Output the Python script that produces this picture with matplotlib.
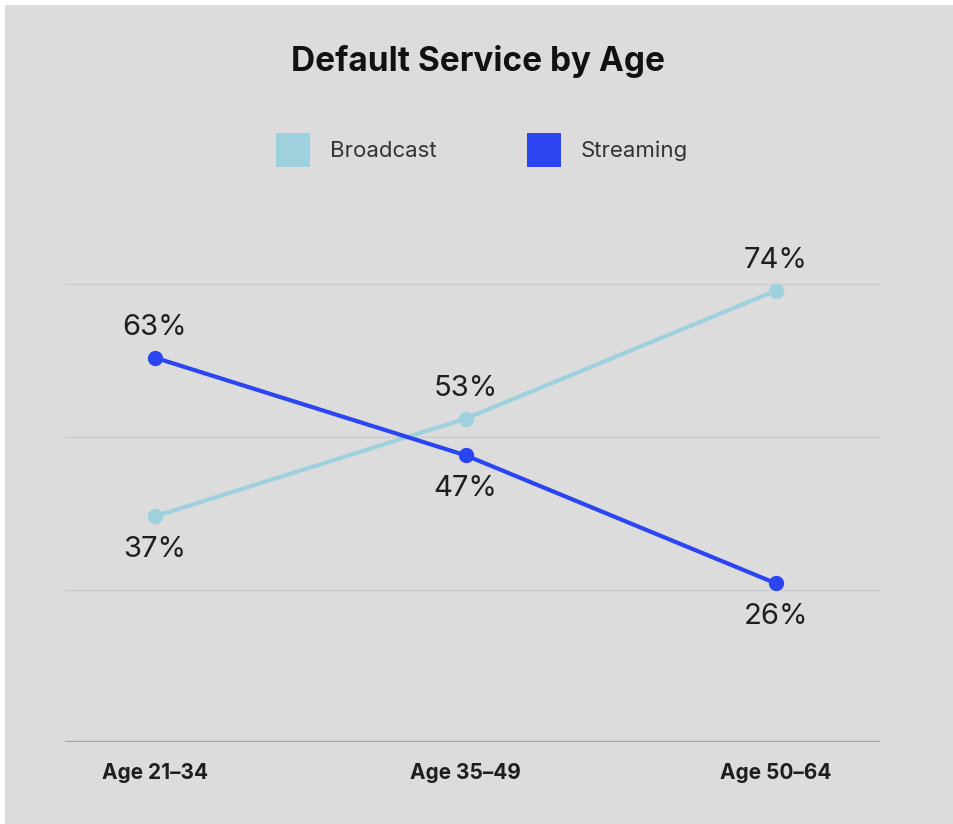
import matplotlib

matplotlib.use("Agg")
import matplotlib.pyplot as plt
from matplotlib.patches import Rectangle

plt.rcParams["font.family"] = ["Inter", "DejaVu Sans"]

# data
age_groups = ["Age 21\u201334", "Age 35\u201349", "Age 50\u201364"]
broadcast = [37, 53, 74]
streaming = [63, 47, 26]
gridlines = [25, 50, 75]

BG = "#dcdcdc"
BROADCAST_COLOR = "#9fd0dd"
STREAMING_COLOR = "#2b45f2"
TEXT_COLOR = "#1e1e1e"

W, H = 954, 824
fig = plt.figure(figsize=(W / 100, H / 100), dpi=100, facecolor="white")
fig.patches.append(Rectangle((5 / W, 0), 1, 1 - 5 / H, transform=fig.transFigure,
                             facecolor=BG, edgecolor="none", zorder=-1))

ax = fig.add_axes([65 / W, (H - 742) / H, 815 / W, 610 / H])
ax.set_facecolor("none")
ax.set_xlim(-0.29, 2.335)
ax.set_ylim(0, 100)
for s in ax.spines.values():
    s.set_visible(False)
ax.axhline(0, color="#a3a3a3", lw=1.6, zorder=1)
for g in gridlines:
    ax.axhline(g, color="#cbcbcb", lw=1.0, zorder=1)

x = list(range(len(age_groups)))
ax.plot(x, broadcast, color=BROADCAST_COLOR, lw=3, marker="o", markersize=10, zorder=3)
ax.plot(x, streaming, color=STREAMING_COLOR, lw=3, marker="o", markersize=10, zorder=4)

for xi, b, s in zip(x, broadcast, streaming):
    for val, other in ((b, s), (s, b)):
        above = val > other
        ax.annotate(f"{val}%", (xi, val), xytext=(0, 12 if above else -14),
                    textcoords="offset points", ha="center",
                    va="bottom" if above else "top", fontsize=21, color=TEXT_COLOR)

ax.set_yticks([])
ax.set_xticks(x)
ax.set_xticklabels(age_groups, fontsize=15, fontweight="bold", color=TEXT_COLOR)
ax.tick_params(axis="x", length=0, pad=15)

fig.text(478 / W, 1 - 62 / H, "Default Service by Age", ha="center", va="center",
         fontsize=24, fontweight="bold", color="#111111")

# legend
for px, label, color in ((292, "Broadcast", BROADCAST_COLOR), (543, "Streaming", STREAMING_COLOR)):
    fig.patches.append(Rectangle(((px - 16) / W, 1 - 167 / H), 34 / W, 34 / H,
                                 transform=fig.transFigure, facecolor=color, edgecolor="none"))
    fig.text((px + 38) / W, 1 - 151 / H, label, ha="left", va="center",
             fontsize=16, color="#333333")

fig.savefig("out.png", dpi=100, facecolor="white")
